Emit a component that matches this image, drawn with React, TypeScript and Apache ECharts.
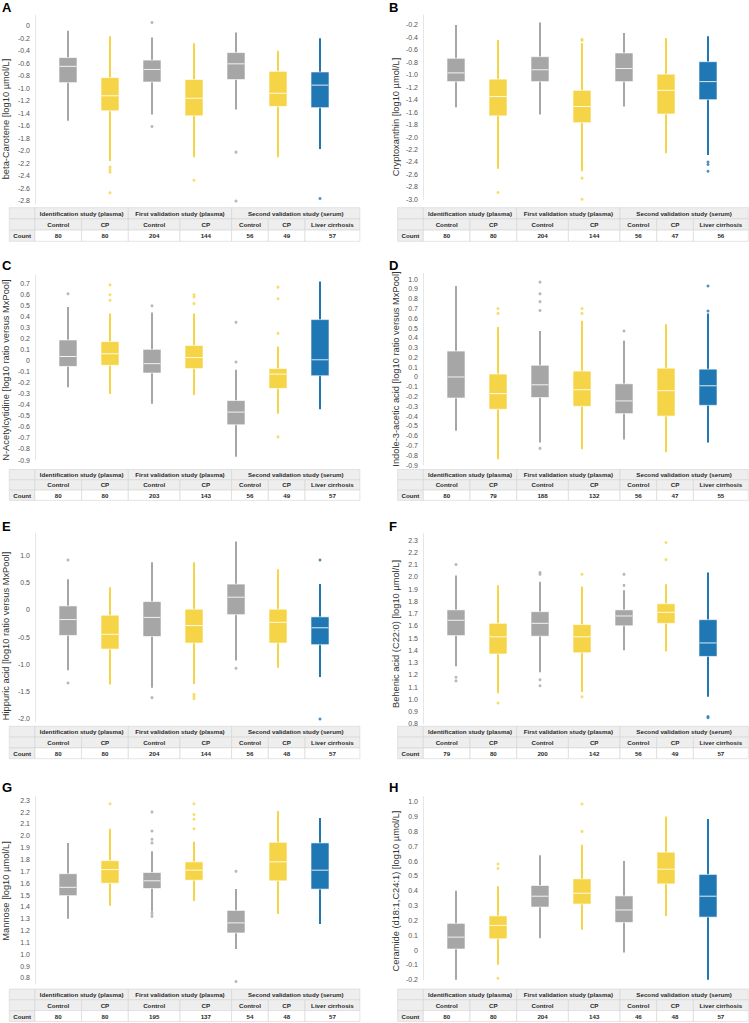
import React, { useEffect, useRef } from 'react';
import * as echarts from 'echarts';

// ---------- categories / labels ----------
const CATEGORIES = [
  'Control (identification)', 'CP (identification)',
  'Control (first validation)', 'CP (first validation)',
  'Control (second validation)', 'CP (second validation)', 'Liver cirrhosis (second validation)',
];
const COLUMN_LABELS = ['Control', 'CP', 'Control', 'CP', 'Control', 'CP', 'Liver cirrhosis'];
const STUDY_LABELS = ['Identification study (plasma)', 'First validation study (plasma)', 'Second validation study (serum)'];
const GROUP_COLORS = ['#a6a6a6', '#f5d547', '#a6a6a6', '#f5d547', '#a6a6a6', '#f5d547', '#1f77b4'];

// ---------- data: box = [lower whisker, Q1, median, Q3, upper whisker] ----------
const betaCaroteneBoxes = [
  [-1.52, -0.91, -0.65, -0.51, -0.08],
  [-2.16, -1.36, -1.12, -0.83, -0.17],
  [-1.42, -0.90, -0.70, -0.55, -0.19],
  [-2.10, -1.44, -1.16, -0.86, -0.28],
  [-1.34, -0.86, -0.61, -0.43, -0.11],
  [-2.10, -1.29, -1.08, -0.73, -0.40],
  [-1.97, -1.31, -0.95, -0.74, -0.20],
];
const betaCaroteneOutliers = [[1, -2.26], [1, -2.30], [1, -2.34], [1, -2.67], [2, 0.05], [2, -1.61], [3, -2.47], [4, -2.02], [4, -2.80], [6, -2.76]];
const betaCaroteneCounts = [80, 80, 204, 144, 56, 49, 57];

const cryptoxanthinBoxes = [
  [-1.52, -1.11, -0.97, -0.735, -0.20],
  [-2.51, -1.66, -1.35, -1.07, -0.44],
  [-1.64, -1.11, -0.92, -0.71, -0.16],
  [-2.55, -1.77, -1.51, -1.25, -0.49],
  [-1.51, -1.11, -0.90, -0.65, -0.33],
  [-2.26, -1.63, -1.25, -0.99, -0.41],
  [-2.29, -1.40, -1.11, -0.79, -0.38],
];
const cryptoxanthinOutliers = [[1, -2.89], [3, -0.43], [3, -0.45], [3, -2.66], [3, -3.0], [6, -2.40], [6, -2.44], [6, -2.55]];
const cryptoxanthinCounts = [80, 80, 204, 144, 56, 47, 56];

const acetylcytidineBoxes = [
  [-0.24, -0.05, 0.04, 0.19, 0.49],
  [-0.30, -0.04, 0.065, 0.175, 0.43],
  [-0.39, -0.11, -0.025, 0.105, 0.44],
  [-0.31, -0.07, 0.03, 0.14, 0.43],
  [-0.87, -0.58, -0.465, -0.36, -0.08],
  [-0.48, -0.25, -0.12, -0.07, 0.13],
  [-0.44, -0.135, 0.01, 0.375, 0.72],
];
const acetylcytidineOutliers = [[0, 0.61], [1, 0.69], [1, 0.60], [1, 0.55], [2, 0.50], [3, 0.60], [3, 0.58], [3, 0.52], [4, 0.35], [4, -0.01], [5, 0.67], [5, 0.565], [5, 0.25], [5, -0.69]];
const acetylcytidineCounts = [80, 80, 203, 143, 56, 49, 57];

const indoleAceticBoxes = [
  [-0.55, -0.215, 0.0, 0.265, 0.93],
  [-0.84, -0.33, -0.17, 0.03, 0.51],
  [-0.67, -0.21, -0.08, 0.12, 0.47],
  [-0.74, -0.30, -0.13, 0.06, 0.575],
  [-0.64, -0.375, -0.245, -0.07, 0.37],
  [-0.77, -0.40, -0.14, 0.09, 0.54],
  [-0.67, -0.29, -0.09, 0.08, 0.65],
];
const indoleAceticOutliers = [[1, 0.70], [1, 0.65], [2, 0.97], [2, 0.85], [2, 0.77], [2, 0.68], [2, -0.73], [3, 0.70], [3, 0.65], [4, 0.47], [6, 0.93], [6, 0.675]];
const indoleAceticCounts = [80, 79, 188, 132, 56, 47, 55];

const hippuricBoxes = [
  [-1.11, -0.47, -0.18, 0.07, 0.56],
  [-1.37, -0.72, -0.45, -0.10, 0.41],
  [-1.43, -0.49, -0.14, 0.15, 0.87],
  [-1.36, -0.61, -0.29, 0.01, 0.87],
  [-0.93, -0.09, 0.23, 0.47, 1.25],
  [-1.06, -0.61, -0.23, 0.01, 0.74],
  [-1.23, -0.64, -0.33, -0.13, 0.47],
];
const hippuricOutliers = [[0, 0.91], [0, -1.34], [2, -1.61], [3, -1.55], [3, -1.59], [3, -1.63], [4, -1.07], [6, 0.91], [6, -2.0]];
const hippuricCounts = [80, 80, 204, 144, 56, 48, 57];

const behenicBoxes = [
  [1.27, 1.52, 1.645, 1.73, 2.01],
  [1.05, 1.37, 1.51, 1.62, 1.93],
  [1.22, 1.515, 1.62, 1.715, 1.96],
  [1.06, 1.38, 1.51, 1.61, 1.92],
  [1.40, 1.60, 1.68, 1.73, 1.89],
  [1.39, 1.62, 1.71, 1.78, 1.94],
  [1.02, 1.35, 1.46, 1.65, 2.035],
];
const behenicOutliers = [[0, 2.10], [0, 1.18], [0, 1.15], [1, 0.97], [2, 2.035], [2, 2.02], [2, 1.16], [2, 1.11], [3, 2.02], [3, 1.02], [4, 2.02], [4, 1.93], [5, 2.28], [5, 2.14], [6, 0.86], [6, 0.85]];
const behenicCounts = [79, 80, 200, 142, 56, 49, 57];

const mannoseBoxes = [
  [1.30, 1.495, 1.565, 1.68, 1.94],
  [1.41, 1.60, 1.715, 1.79, 2.06],
  [1.36, 1.555, 1.62, 1.69, 1.87],
  [1.45, 1.625, 1.71, 1.78, 1.95],
  [1.045, 1.18, 1.265, 1.37, 1.55],
  [1.34, 1.62, 1.78, 1.945, 2.21],
  [1.255, 1.55, 1.71, 1.94, 2.15],
];
const mannoseOutliers = [[1, 2.27], [2, 2.20], [2, 2.04], [2, 1.97], [2, 1.94], [2, 1.345], [2, 1.32], [3, 2.27], [3, 2.18], [3, 2.14], [3, 2.06], [4, 1.70], [4, 0.77]];
const mannoseCounts = [80, 80, 195, 137, 54, 48, 57];

const ceramideBoxes = [
  [-0.20, 0.007, 0.087, 0.18, 0.40],
  [-0.10, 0.076, 0.166, 0.23, 0.43],
  [0.08, 0.29, 0.363, 0.435, 0.64],
  [0.137, 0.31, 0.383, 0.48, 0.71],
  [-0.016, 0.186, 0.27, 0.365, 0.60],
  [0.23, 0.446, 0.545, 0.66, 0.90],
  [-0.20, 0.222, 0.363, 0.51, 0.883],
];
const ceramideOutliers = [[1, 0.58], [1, 0.55], [1, -0.19], [3, 0.985], [3, 0.80]];
const ceramideCounts = [80, 80, 204, 143, 46, 48, 57];

const PANELS = [
  { letter: 'A', name: 'beta-Carotene [log10 µmol/L]', boxes: betaCaroteneBoxes, outliers: betaCaroteneOutliers, counts: betaCaroteneCounts },
  { letter: 'B', name: 'Cryptoxanthin [log10 µmol/L]', boxes: cryptoxanthinBoxes, outliers: cryptoxanthinOutliers, counts: cryptoxanthinCounts },
  { letter: 'C', name: 'N-Acetylcytidine [log10 ratio versus MxPool]', boxes: acetylcytidineBoxes, outliers: acetylcytidineOutliers, counts: acetylcytidineCounts },
  { letter: 'D', name: 'Indole-3-acetic acid [log10 ratio versus MxPool]', boxes: indoleAceticBoxes, outliers: indoleAceticOutliers, counts: indoleAceticCounts },
  { letter: 'E', name: 'Hippuric acid [log10 ratio versus MxPool]', boxes: hippuricBoxes, outliers: hippuricOutliers, counts: hippuricCounts },
  { letter: 'F', name: 'Behenic acid (C22:0) [log10 µmol/L]', boxes: behenicBoxes, outliers: behenicOutliers, counts: behenicCounts },
  { letter: 'G', name: 'Mannose [log10 µmol/L]', boxes: mannoseBoxes, outliers: mannoseOutliers, counts: mannoseCounts },
  { letter: 'H', name: 'Ceramide (d18:1,C24:1) [log10 µmol/L]', boxes: ceramideBoxes, outliers: ceramideOutliers, counts: ceramideCounts },
];

// ---------- layout (positions & axis ranges) ----------
const LAYOUT = [
  { col: 0, top: 15, height: 189.1, min: -2.85, max: 0.17, step: 0.2, letterY: 7.5, nameY: 119, tableTop: 207.7, rowH: 11.2 },
  { col: 1, top: 15, height: 184.3, min: -3.0, max: -0.04, step: 0.2, letterY: 7.5, nameY: 117, tableTop: 207.7, rowH: 11.2 },
  { col: 0, top: 275, height: 185, min: -0.9, max: 0.78, step: 0.1, letterY: 265, nameY: 370, tableTop: 469.5, rowH: 10.3 },
  { col: 1, top: 273.3, height: 191.7, min: -0.9, max: 1.06, step: 0.1, letterY: 265, nameY: 369, tableTop: 469.5, rowH: 10.3 },
  { col: 0, top: 533.3, height: 188.4, min: -2.05, max: 1.4, step: 0.5, letterY: 526, nameY: 636, tableTop: 726.3, rowH: 10.8 },
  { col: 1, top: 533.3, height: 190.5, min: 0.8, max: 2.355, step: 0.1, letterY: 526, nameY: 634, tableTop: 726.3, rowH: 10.8 },
  { col: 0, top: 796.7, height: 187.2, min: 0.75, max: 2.33, step: 0.1, letterY: 787.5, nameY: 891, tableTop: 989, rowH: 10.8 },
  { col: 1, top: 796.7, height: 183, min: -0.2, max: 1.034, step: 0.1, letterY: 787.5, nameY: 891, tableTop: 989, rowH: 10.8 },
];
const COL_X = [
  { gridLeft: 47, letterX: 2, nameX: 5.5, tableLeft: 9.3 },
  { gridLeft: 435, letterX: 389, nameX: 396, tableLeft: 397.7 },
];
const TABLE_COLS = [0, 25.6, 72.3, 119, 170.7, 222.3, 259, 295.7, 350.6];
const FONT = 'Liberation Sans, Arial, Helvetica, sans-serif';

function makeFormatter(step: number) {
  return (v: number) => {
    const r = v / step;
    if (Math.abs(r - Math.round(r)) > 1e-6) return '';
    if (Math.abs(v) < 1e-9) return '0';
    return v.toFixed(1);
  };
}

function renderBox(params: any, api: any) {
  const k = api.value(0);
  const lo = api.coord([k, api.value(1)]);
  const q1 = api.coord([k, api.value(2)]);
  const med = api.coord([k, api.value(3)]);
  const q3 = api.coord([k, api.value(4)]);
  const hi = api.coord([k, api.value(5)]);
  const color = GROUP_COLORS[k];
  const bw = 18;
  const cx = lo[0];
  return {
    type: 'group',
    children: [
      { type: 'rect', shape: { x: cx - 1, y: hi[1], width: 2, height: lo[1] - hi[1] }, style: { fill: color } },
      { type: 'rect', shape: { x: cx - bw / 2, y: q3[1], width: bw, height: q1[1] - q3[1] }, style: { fill: color, stroke: 'rgba(255,255,255,0.6)', lineWidth: 1 } },
      { type: 'line', shape: { x1: cx - bw / 2 + 0.5, y1: med[1], x2: cx + bw / 2 - 0.5, y2: med[1] }, style: { stroke: 'rgba(255,255,255,0.85)', lineWidth: 1 } },
    ],
  };
}

function tableGraphics(left: number, top: number, rowH: number, counts: number[]) {
  const els: any[] = [];
  const grey = '#eeeeee';
  const border = '#d4d4d4';
  const textStyle = (text: string, x: number, y: number) => ({
    type: 'text', x, y, silent: true,
    style: { text, fill: '#2a2a2a', fontSize: 6.2, fontWeight: 'bold', fontFamily: FONT, align: 'center', verticalAlign: 'middle' },
  });
  const cell = (x0: number, x1: number, row: number, fill: string) => ({
    type: 'rect', silent: true,
    shape: { x: left + x0, y: top + row * rowH, width: x1 - x0, height: rowH },
    style: { fill, stroke: border, lineWidth: 0.6 },
  });
  els.push(cell(TABLE_COLS[0], TABLE_COLS[1], 0, grey));
  const groups = [[1, 3], [3, 5], [5, 8]];
  groups.forEach((g, i) => {
    els.push(cell(TABLE_COLS[g[0]], TABLE_COLS[g[1]], 0, grey));
    els.push(textStyle(STUDY_LABELS[i], left + (TABLE_COLS[g[0]] + TABLE_COLS[g[1]]) / 2, top + rowH * 0.5));
  });
  els.push(cell(TABLE_COLS[0], TABLE_COLS[1], 1, grey));
  COLUMN_LABELS.forEach((lab, i) => {
    els.push(cell(TABLE_COLS[i + 1], TABLE_COLS[i + 2], 1, grey));
    els.push(textStyle(lab, left + (TABLE_COLS[i + 1] + TABLE_COLS[i + 2]) / 2, top + rowH * 1.5));
  });
  els.push(cell(TABLE_COLS[0], TABLE_COLS[1], 2, grey));
  els.push(textStyle('Count', left + (TABLE_COLS[0] + TABLE_COLS[1]) / 2, top + rowH * 2.5));
  counts.forEach((c, i) => {
    els.push(cell(TABLE_COLS[i + 1], TABLE_COLS[i + 2], 2, '#ffffff'));
    els.push(textStyle(String(c), left + (TABLE_COLS[i + 1] + TABLE_COLS[i + 2]) / 2, top + rowH * 2.5));
  });
  return els;
}

function buildOption() {
  const grid: any[] = [];
  const xAxis: any[] = [];
  const yAxis: any[] = [];
  const series: any[] = [];
  const graphic: any[] = [];

  PANELS.forEach((p, i) => {
    const L = LAYOUT[i];
    const C = COL_X[L.col];
    grid.push({ left: C.gridLeft, top: L.top, width: 294, height: L.height });
    xAxis.push({
      type: 'category', gridIndex: i, data: CATEGORIES, boundaryGap: true,
      axisLine: { show: false }, axisTick: { show: false }, axisLabel: { show: false }, splitLine: { show: false },
    });
    yAxis.push({
      type: 'value', gridIndex: i, min: L.min, max: L.max, interval: 0.05, offset: 12,
      axisLine: { show: true, lineStyle: { color: '#e6e6e6', width: 1 } },
      axisTick: { show: false }, splitLine: { show: false },
      axisLabel: { margin: 5, fontSize: 7, color: '#555555', fontFamily: FONT, formatter: makeFormatter(L.step) },
    });
    series.push({
      type: 'custom', xAxisIndex: i, yAxisIndex: i, silent: true,
      data: p.boxes.map((b, k) => [k, ...b]),
      encode: { x: 0, y: [1, 2, 3, 4, 5] },
      renderItem: renderBox,
    });
    series.push({
      type: 'scatter', xAxisIndex: i, yAxisIndex: i, silent: true, clip: false,
      data: p.outliers, symbolSize: 3,
      itemStyle: { color: (prm: any) => GROUP_COLORS[prm.value[0]] },
    });
    graphic.push({
      type: 'text', x: C.letterX, y: L.letterY, silent: true,
      style: { text: p.letter, fill: '#000', fontSize: 13, fontWeight: 'bold', fontFamily: FONT, align: 'left', verticalAlign: 'middle' },
    });
    graphic.push({
      type: 'text', x: C.nameX, y: L.nameY, rotation: Math.PI / 2, silent: true,
      style: { text: p.name, fill: '#333333', fontSize: 9.3, fontFamily: FONT, align: 'center', verticalAlign: 'middle' },
    });
    tableGraphics(C.tableLeft, L.tableTop, L.rowH, p.counts).forEach((e) => graphic.push(e));
  });

  return { animation: false, backgroundColor: '#ffffff', grid, xAxis, yAxis, series, graphic };
}

export default function App() {
  const ref = useRef<HTMLDivElement>(null);
  useEffect(() => {
    if (!ref.current) return;
    const chart = echarts.init(ref.current, undefined, { renderer: 'svg' });
    chart.setOption(buildOption() as any);
    return () => chart.dispose();
  }, []);
  return <div ref={ref} style={{ position: 'absolute', left: 0, top: 0, width: 749, height: 1023 }} />;
}
